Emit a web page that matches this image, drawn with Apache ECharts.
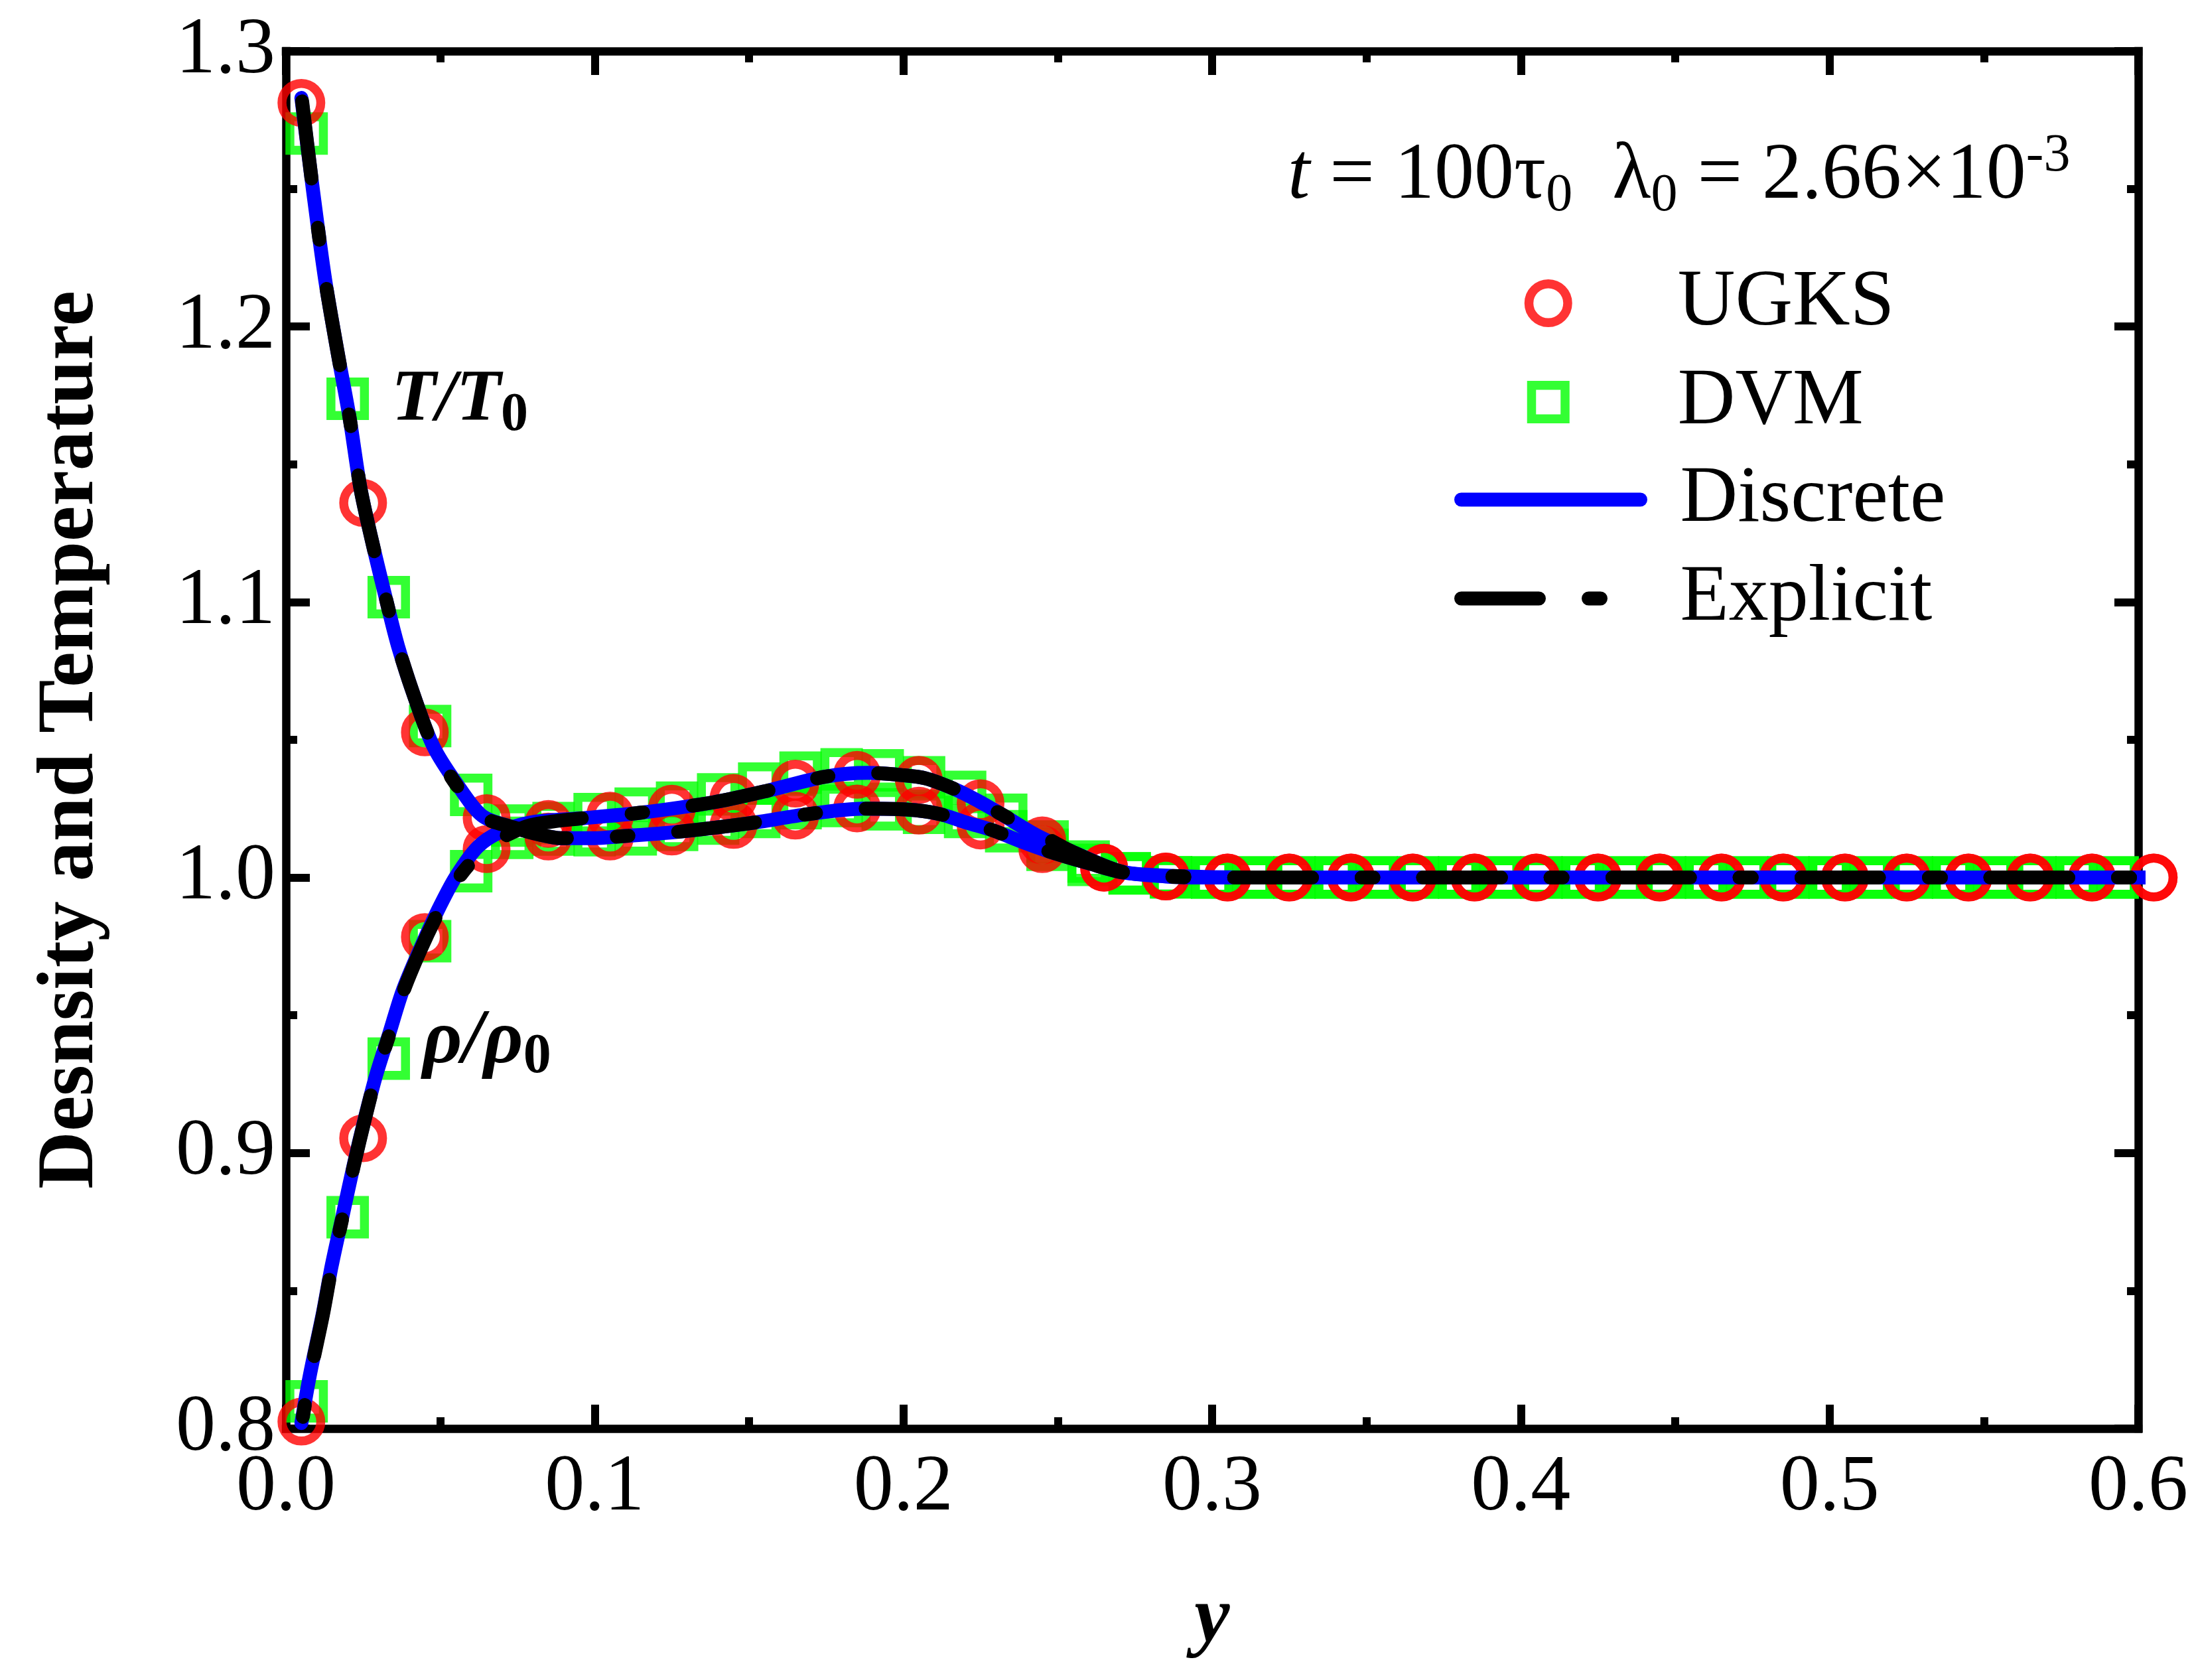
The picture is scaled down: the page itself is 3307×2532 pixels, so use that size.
<!DOCTYPE html>
<html>
<head>
<meta charset="utf-8">
<script src="https://cdn.jsdelivr.net/npm/echarts@6/dist/echarts.min.js"></script>
<style>html,body{margin:0;padding:0;background:#fff}#c{width:3307px;height:2532px}</style>
</head>
<body>
<div id="c"></div>
<script>
// ---------------- data ----------------
const xTicks = [0.0, 0.1, 0.2, 0.3, 0.4, 0.5, 0.6];
const yTicks = [0.8, 0.9, 1.0, 1.1, 1.2, 1.3];

const ugksX = [0.005,0.025,0.045,0.065,0.085,0.105,0.125,0.145,0.165,0.185,0.205,0.225,0.245,0.265,0.285,0.305,0.325,0.345,0.365,0.385,0.405,0.425,0.445,0.465,0.485,0.505,0.525,0.545,0.565,0.585,0.605];
const ugksT = [1.2812,1.1360,1.0527,1.0216,1.0149,1.0149,1.0167,1.0191,1.0225,1.0251,1.0243,1.0189,1.0103,1.0036,1.0004,1.0,1.0,1.0,1.0,1.0,1.0,1.0,1.0,1.0,1.0,1.0,1.0,1.0,1.0,1.0,1.0];
const ugksRho = [0.8025,0.9054,0.9784,1.0103,1.0195,1.0225,1.0250,1.0289,1.0341,1.0373,1.0355,1.0270,1.0135,1.0036,1.0004,1.0,1.0,1.0,1.0,1.0,1.0,1.0,1.0,1.0,1.0,1.0,1.0,1.0,1.0,1.0,1.0];

const dvmX = [0.0067,0.0200,0.0333,0.0467,0.0600,0.0733,0.0867,0.1000,0.1133,0.1267,0.1400,0.1533,0.1667,0.1800,0.1933,0.2067,0.2200,0.2333,0.2467,0.2600,0.2733,0.2867,0.3000,0.3133,0.3267,0.3400,0.3533,0.3667,0.3800,0.3933,0.4067,0.4200,0.4333,0.4467,0.4600,0.4733,0.4867,0.5000,0.5133,0.5267,0.5400,0.5533,0.5667,0.5800,0.5933];
const dvmT = [1.2701,1.1738,1.1018,1.0550,1.0300,1.0189,1.0156,1.0154,1.0157,1.0173,1.0196,1.0220,1.0252,1.0260,1.0248,1.0235,1.0220,1.0168,1.0101,1.0046,1.0015,1.0001,1.0,1.0,1.0,1.0,1.0,1.0,1.0,1.0,1.0,1.0,1.0,1.0,1.0,1.0,1.0,1.0,1.0,1.0,1.0,1.0,1.0,1.0,1.0];
const dvmRho = [0.8099,0.8767,0.9343,0.9769,1.0023,1.0144,1.0198,1.0230,1.0250,1.0272,1.0302,1.0341,1.0381,1.0393,1.0389,1.0364,1.0311,1.0228,1.0131,1.0058,1.0015,1.0001,1.0,1.0,1.0,1.0,1.0,1.0,1.0,1.0,1.0,1.0,1.0,1.0,1.0,1.0,1.0,1.0,1.0,1.0,1.0,1.0,1.0,1.0,1.0];

const discTX = [0.005,0.0087,0.0127,0.017,0.0206,0.0241,0.0277,0.032,0.0363,0.0421,0.0478,0.055,0.0635,0.0734,0.0825,0.0891,0.1,0.1076,0.126,0.15,0.169,0.187,0.2009,0.2116,0.2206,0.2288,0.2384,0.2472,0.26,0.2714,0.289,0.31,0.35,0.4,0.45,0.5,0.55,0.605];
const discT  = [1.283,1.250,1.217,1.189,1.167,1.1415,1.123,1.103,1.084,1.064,1.0475,1.0346,1.0225,1.0183,1.0155,1.0143,1.0143,1.0149,1.0165,1.0197,1.0230,1.0250,1.0247,1.0231,1.0199,1.0172,1.0130,1.0095,1.0052,1.0018,1.0005,1.0,1.0,1.0,1.0,1.0,1.0,1.0];
const discRhoX = [0.005,0.0077,0.012,0.0148,0.0184,0.022,0.0256,0.0292,0.0335,0.0378,0.0435,0.0492,0.055,0.0621,0.0693,0.0793,0.0958,0.1146,0.1384,0.1562,0.1746,0.1885,0.1993,0.2072,0.2166,0.2241,0.2322,0.2429,0.2545,0.2705,0.285,0.30,0.35,0.4,0.45,0.5,0.55,0.605];
const discRho  = [0.802,0.8191,0.8421,0.859,0.8775,0.8959,0.9128,0.9282,0.9435,0.9589,0.9742,0.9881,1.0003,1.0111,1.0165,1.0200,1.0215,1.0235,1.0273,1.0316,1.0366,1.0380,1.0372,1.0360,1.0321,1.0279,1.0227,1.0155,1.0095,1.0022,1.0004,1.0,1.0,1.0,1.0,1.0,1.0,1.0];

const explTX = [0.005,0.0087,0.0127,0.017,0.0206,0.0241,0.0277,0.032,0.0363,0.0421,0.0478,0.055,0.0635,0.0734,0.0825,0.0891,0.1,0.1076,0.126,0.15,0.169,0.187,0.2009,0.2116,0.2206,0.2288,0.2384,0.2472,0.26,0.2714,0.289,0.31,0.35,0.4,0.45,0.5,0.55,0.605];
const explT  = [1.284,1.250,1.217,1.189,1.167,1.1415,1.123,1.103,1.084,1.064,1.0475,1.0340,1.0222,1.0183,1.0155,1.0143,1.0143,1.0149,1.0165,1.0197,1.0230,1.0250,1.0247,1.0231,1.0199,1.0172,1.0130,1.0095,1.0052,1.0018,1.0005,1.0,1.0,1.0,1.0,1.0,1.0,1.0];
const explRhoX = [0.005,0.0077,0.012,0.0148,0.0184,0.022,0.0256,0.0292,0.0335,0.0378,0.0435,0.0492,0.055,0.0621,0.0693,0.0793,0.0958,0.1146,0.1384,0.1562,0.1746,0.1885,0.1993,0.2072,0.2166,0.2241,0.2322,0.2429,0.2545,0.2705,0.285,0.30,0.35,0.4,0.45,0.5,0.55,0.605];
const explRho  = [0.801,0.8185,0.8415,0.8585,0.877,0.8955,0.9125,0.928,0.943,0.958,0.9735,0.9870,0.9985,1.0080,1.0140,1.0190,1.0215,1.0235,1.0273,1.0316,1.0366,1.0380,1.0372,1.0360,1.0321,1.0279,1.0227,1.0165,1.0095,1.0022,1.0004,1.0,1.0,1.0,1.0,1.0,1.0,1.0];

// ---------------- chart ----------------
const FONT = '"Liberation Serif","Times New Roman",Times,serif';
const pairs = (xs, vs) => xs.map((x, i) => [x, vs[i]]);
const chart = echarts.init(document.getElementById('c'), null, {renderer: 'canvas', width: 3307, height: 2532});

const frameLine = {show: true, onZero: false, lineStyle: {color: '#000', width: 12.5, cap: 'square'}};
const tick = {show: true, inside: true, length: 36, lineStyle: {color: '#000', width: 12}};
const minor = {show: true, splitNumber: 2, length: 17, lineStyle: {color: '#000', width: 12}};

const RED = '#ff0000', GREEN = '#00ff00', BLUE = '#0000ff';
const DASH = [117, 75, 18, 75];

const circleStyle = {color: 'rgba(0,0,0,0)', borderColor: RED, borderWidth: 13.5};
const squareStyle = {color: 'rgba(0,0,0,0)', borderColor: GREEN, borderWidth: 13.5};
const hiddenSymbol = {color: 'rgba(0,0,0,0)', borderColor: 'rgba(0,0,0,0)', borderWidth: 0, opacity: 0};

function scatter(name, data, symbol, size, style) {
  return {name, type: 'scatter', data, symbol, symbolSize: size, itemStyle: style,
          clip: false, silent: true, emphasis: {disabled: true}};
}
function line(name, data, color, type, dashOffset) {
  return {name, type: 'line', data, symbol: 'none', showSymbol: false, smooth: 0.3,
          lineStyle: {color, width: 21, type, dashOffset: dashOffset || 0, cap: 'round', join: 'round'}, itemStyle: {color},
          silent: true, emphasis: {disabled: true}};
}
const legendText = (pad) => ({fontFamily: FONT, fontSize: 120, color: '#000', lineHeight: 124, padding: [0, 0, 0, pad]});

const option = {
  animation: false,
  backgroundColor: '#fff',
  grid: {left: 431, right: 84, top: 77, bottom: 379, containLabel: false},
  xAxis: [
    {type: 'value', min: xTicks[0], max: xTicks[xTicks.length - 1], interval: 0.1, position: 'bottom',
     axisLine: frameLine, axisTick: tick, minorTick: minor, splitLine: {show: false},
     axisLabel: {fontFamily: FONT, fontSize: 120, color: '#000', margin: 30, lineHeight: 120,
                 showMinLabel: true, showMaxLabel: true, formatter: v => v.toFixed(1)},
     name: 'y', nameLocation: 'middle', nameGap: 229,
     nameTextStyle: {fontFamily: FONT, fontSize: 120, lineHeight: 120, fontWeight: 'bold', fontStyle: 'italic', color: '#000'}},
    {type: 'value', min: xTicks[0], max: xTicks[xTicks.length - 1], interval: 0.1, position: 'top',
     axisLine: frameLine, axisTick: tick, minorTick: minor, splitLine: {show: false}, axisLabel: {show: false}}
  ],
  yAxis: [
    {type: 'value', min: yTicks[0], max: yTicks[yTicks.length - 1], interval: 0.1, position: 'left',
     axisLine: frameLine, axisTick: tick, minorTick: minor, splitLine: {show: false},
     axisLabel: {fontFamily: FONT, fontSize: 120, color: '#000', margin: 16, lineHeight: 120,
                 showMinLabel: true, showMaxLabel: true, formatter: v => v.toFixed(1)},
     name: 'Desnsity and Temperature', nameLocation: 'middle', nameGap: 263,
     nameTextStyle: {fontFamily: FONT, fontSize: 120, lineHeight: 120, fontWeight: 'bold', color: '#000'}},
    {type: 'value', min: yTicks[0], max: yTicks[yTicks.length - 1], interval: 0.1, position: 'right',
     axisLine: frameLine, axisTick: tick, minorTick: minor, splitLine: {show: false}, axisLabel: {show: false}}
  ],
  legend: [
    {orient: 'vertical', left: 2297.75, top: 395, padding: 0, itemWidth: 58.5, itemHeight: 58.5, itemGap: 25,
     selectedMode: false, textStyle: legendText(160.75),
     data: [{name: 'UGKS', icon: 'circle', itemStyle: circleStyle}]},
    {orient: 'vertical', left: 2301.75, top: 544, padding: 0, itemWidth: 50.5, itemHeight: 50.5, itemGap: 25,
     selectedMode: false, textStyle: legendText(164.75),
     data: [{name: 'DVM', icon: 'rect', itemStyle: squareStyle}]},
    {orient: 'vertical', left: 2192, top: 691, padding: 0, itemWidth: 270, itemHeight: 40, itemGap: 25,
     selectedMode: false, textStyle: legendText(55),
     data: [{name: 'Discrete', itemStyle: hiddenSymbol, lineStyle: {color: BLUE, width: 21, type: 'solid', cap: 'round'}},
            {name: 'Explicit', itemStyle: hiddenSymbol, lineStyle: {color: '#000', width: 21, type: DASH, dashOffset: 0, cap: 'round'}}]}
  ],
  graphic: [
    {type: 'text', left: 1941, top: 196, silent: true,
     style: {text: '{i|t} = 100τ{s|0}  λ{s|0} = 2.66×10{p|-3}', fontFamily: FONT, fontSize: 120, lineHeight: 140, fill: '#000',
             rich: {i: {fontFamily: FONT, fontSize: 120, fontStyle: 'italic', lineHeight: 140},
                    s: {fontFamily: FONT, fontSize: 80, lineHeight: 48, verticalAlign: 'bottom'},
                    p: {fontFamily: FONT, fontSize: 80, lineHeight: 64, verticalAlign: 'top'}}}},
    {type: 'text', left: 590, top: 550, silent: true,
     style: {text: '{m|T/T}{s|0}', fill: '#000',
             rich: {m: {fontFamily: FONT, fontSize: 110, fontStyle: 'italic', fontWeight: 'bold', lineHeight: 126},
                    s: {fontFamily: FONT, fontSize: 82, fontWeight: 'bold', lineHeight: 40, verticalAlign: 'bottom'}}}},
    {type: 'text', left: 637, top: 1513, silent: true,
     style: {text: '{m|ρ/ρ}{s|0}', fill: '#000',
             rich: {m: {fontFamily: FONT, fontSize: 116, fontStyle: 'italic', fontWeight: 'bold', lineHeight: 130},
                    s: {fontFamily: FONT, fontSize: 84, fontWeight: 'bold', lineHeight: 46, verticalAlign: 'bottom'}}}}
  ],
  series: [
    scatter('DVM', pairs(dvmX, dvmT), 'rect', 50.5, squareStyle),
    scatter('DVM', pairs(dvmX, dvmRho), 'rect', 50.5, squareStyle),
    scatter('UGKS', pairs(ugksX, ugksT), 'circle', 58.5, circleStyle),
    scatter('UGKS', pairs(ugksX, ugksRho), 'circle', 58.5, circleStyle),
    line('Discrete', pairs(discTX, discT), BLUE, 'solid'),
    line('Discrete', pairs(discRhoX, discRho), BLUE, 'solid'),
    // The two dash-dot curves are traced from the right end so that their
    // common flat tail shares one dash phase (as in the original figure).
    line('Explicit', pairs(explTX, explT).reverse(), '#000', DASH, 156),
    line('Explicit', pairs(explRhoX, explRho).reverse(), '#000', DASH, 156)
  ]
};
chart.setOption(option);
</script>
</body>
</html>
